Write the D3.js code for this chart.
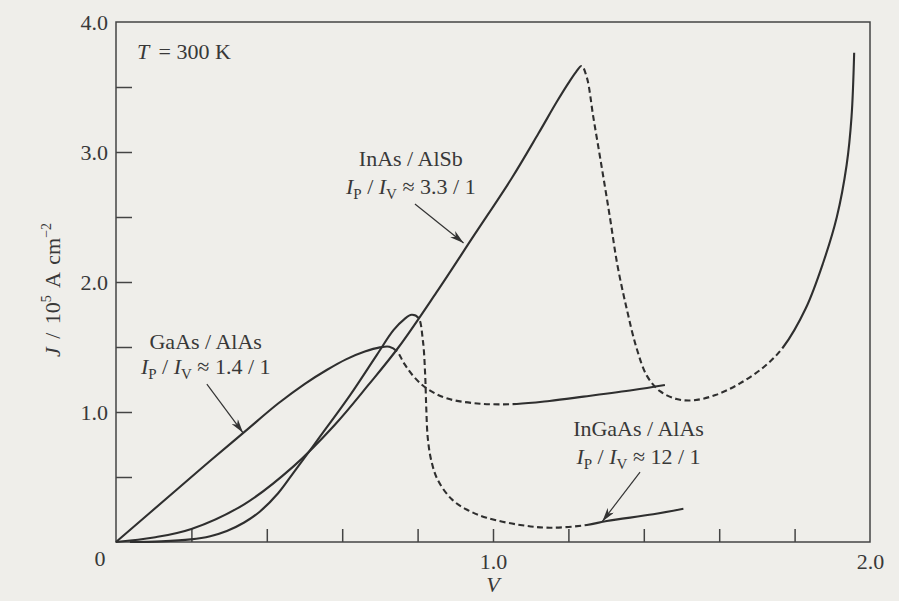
<!DOCTYPE html>
<html>
<head>
<meta charset="utf-8">
<script src="https://cdn.jsdelivr.net/npm/d3@7/dist/d3.min.js"></script>
<style>
  html, body { margin: 0; padding: 0; background: #efeeea; }
  svg { display: block; }
  text { font-family: "Liberation Serif", "Times New Roman", serif; fill: #383838; }
</style>
</head>
<body>
<svg id="chart" width="899" height="601"></svg>
<script>
// Current density J (10^5 A/cm^2) versus bias V for three resonant-tunnelling diodes at 300 K.
// Each device: solid rising branch, dashed negative-differential-resistance branch, solid valley branch.

const gaasRise   = [[0,0],[0.16,0.40],[0.25,0.625],[0.34,0.845],[0.43,1.065],[0.50,1.215],[0.56,1.325],[0.61,1.405],[0.66,1.465],[0.70,1.497],[0.725,1.502],[0.745,1.468]];
const gaasNdr    = [[0.745,1.468],[0.765,1.37],[0.79,1.272],[0.824,1.182],[0.877,1.105],[0.966,1.064],[1.063,1.062]];
const gaasValley = [[1.063,1.062],[1.15,1.085],[1.24,1.118],[1.372,1.169],[1.456,1.208]];

const ingaasRise   = [[0.037,0.0],[0.12,0.005],[0.198,0.02],[0.25,0.045],[0.294,0.085],[0.34,0.15],[0.382,0.235],[0.43,0.375],[0.47,0.53],[0.541,0.81],[0.621,1.13],[0.692,1.44],[0.736,1.63],[0.765,1.715],[0.784,1.748],[0.802,1.725]];
const ingaasNdr    = [[0.802,1.725],[0.814,1.55],[0.82,1.29],[0.823,1.03],[0.827,0.80],[0.836,0.63],[0.853,0.48],[0.89,0.33],[0.93,0.25],[0.983,0.187],[1.072,0.131],[1.151,0.11],[1.249,0.131]];
const ingaasValley = [[1.249,0.131],[1.302,0.162],[1.425,0.213],[1.505,0.256]];

const inasRise   = [[0,0],[0.1,0.035],[0.2,0.10],[0.34,0.29],[0.47,0.58],[0.58,0.90],[0.67,1.21],[0.75,1.50],[0.85,1.92],[0.95,2.36],[1.05,2.80],[1.12,3.14],[1.17,3.39],[1.20,3.53],[1.22,3.615],[1.235,3.662]];
const inasNdr    = [[1.235,3.662],[1.249,3.572],[1.266,3.27],[1.288,2.89],[1.31,2.50],[1.33,2.13],[1.355,1.79],[1.381,1.49],[1.408,1.28],[1.443,1.16],[1.487,1.10],[1.531,1.09],[1.59,1.13],[1.655,1.22],[1.72,1.35],[1.77,1.50]];
const inasValley = [[1.77,1.50],[1.83,1.80],[1.876,2.15],[1.912,2.50],[1.938,2.90],[1.951,3.27],[1.958,3.764]];

// Axis ticks
const xMinorTicks = [0.2,0.4,0.6,0.8,1.0,1.2,1.4,1.6,1.8];
const xLabelTicks = [1.0, 2.0];
const yMinorTicks = [0.5,1.0,1.5,2.0,2.5,3.0,3.5];
const yLabelTicks = [1.0, 2.0, 3.0, 4.0];

// Device labels: name, peak-to-valley ratio
const deviceNames  = ["InAs / AlSb", "GaAs / AlAs", "InGaAs / AlAs"];
const deviceRatios = ["3.3 / 1", "1.4 / 1", "12 / 1"];

const svg = d3.select("#chart");
const ink = "#2f2f2f";
const fs = 22;

const x = d3.scaleLinear().domain([0, 2]).range([116, 870]);
const y = d3.scaleLinear().domain([0, 4]).range([542, 22]);

// Frame
svg.append("rect")
  .attr("x", x(0)).attr("y", y(4))
  .attr("width", x(2) - x(0)).attr("height", y(0) - y(4))
  .attr("fill", "none").attr("stroke", "#444").attr("stroke-width", 1.5);

// Inward ticks
const xAxisTicks = svg.append("g").attr("transform", `translate(0,${y(0)})`)
  .call(d3.axisBottom(x).tickValues(xMinorTicks).tickSize(-13).tickFormat(""));
const yAxisTicks = svg.append("g").attr("transform", `translate(${x(0)},0)`)
  .call(d3.axisLeft(y).tickValues(yMinorTicks).tickSize(-16).tickFormat(""));
[xAxisTicks, yAxisTicks].forEach(g => {
  g.select(".domain").remove();
  g.selectAll(".tick line").attr("stroke", "#444").attr("stroke-width", 1.5);
});

// Tick labels
const yLab = svg.append("g").attr("transform", `translate(${x(0)},0)`)
  .call(d3.axisLeft(y).tickValues(yLabelTicks).tickSize(0).tickPadding(8).tickFormat(d3.format(".1f")));
const xLab = svg.append("g").attr("transform", `translate(0,${y(0)})`)
  .call(d3.axisBottom(x).tickValues(xLabelTicks).tickSize(0).tickPadding(11).tickFormat(d3.format(".1f")));
[yLab, xLab].forEach(g => {
  g.select(".domain").remove();
  g.selectAll("text").attr("font-size", fs).attr("font-family", "Liberation Serif").attr("fill", "#383838");
});
svg.append("text").attr("x", x(0) - 16).attr("y", y(0) + 24)
  .attr("text-anchor", "middle").attr("font-size", fs).text("0");

// Axis titles
svg.append("text").attr("x", x(1)).attr("y", 592)
  .attr("text-anchor", "middle").attr("font-size", fs).attr("font-style", "italic").text("V");

const yt = svg.append("text")
  .attr("transform", `translate(60,${y(2) + 8}) rotate(-90)`)
  .attr("text-anchor", "middle").attr("font-size", fs).attr("word-spacing", 3);
yt.append("tspan").attr("font-style", "italic").text("J");
yt.append("tspan").text(" / 10");
yt.append("tspan").attr("font-size", 14).attr("dy", -9).text("5");
yt.append("tspan").attr("dy", 9).text(" A cm");
yt.append("tspan").attr("font-size", 14).attr("dy", -9).text("\u22122");

// Curves: one smooth path per device; the NDR stretch is dashed via a computed dash array
const line = d3.line().x(d => x(d[0])).y(d => y(d[1])).curve(d3.curveCatmullRom.alpha(0.5));
const curves = svg.append("g").attr("fill", "none").attr("stroke", ink).attr("stroke-linecap", "butt");
const dashOn = 6, dashOff = 3.5;

[[gaasRise, gaasNdr, gaasValley],
 [ingaasRise, ingaasNdr, ingaasValley],
 [inasRise, inasNdr, inasValley]].forEach(([rise, ndr, valley]) => {
  const pts = rise.concat(ndr.slice(1), valley.slice(1));
  const path = curves.append("path").attr("d", line(pts)).attr("stroke-width", 2.1);
  const node = path.node();
  const total = node.getTotalLength();
  // length along the path where it first reaches a given screen x
  const lengthAtX = px => {
    let l = 0;
    while (l < total && node.getPointAtLength(l).x < px) l += 0.25;
    return l;
  };
  const l1 = lengthAtX(x(ndr[0][0]));
  const l2 = lengthAtX(x(ndr[ndr.length - 1][0]));
  const dashes = [l1];
  let pos = l1;
  while (pos + dashOff + dashOn <= l2) {
    dashes.push(dashOff, dashOn);
    pos += dashOff + dashOn;
  }
  dashes.push(Math.min(dashOff, Math.max(0.5, l2 - pos)), total, 0);
  path.attr("stroke-dasharray", dashes.join(","));
});

// Arrowhead marker
svg.append("defs").append("marker")
  .attr("id", "head").attr("viewBox", "0 0 14 8")
  .attr("refX", 14).attr("refY", 4)
  .attr("markerWidth", 14).attr("markerHeight", 8)
  .attr("markerUnits", "userSpaceOnUse").attr("orient", "auto")
  .append("path").attr("d", "M0,0 L14,4 L0,8 L4,4 Z").attr("fill", "#333");

// Temperature note
svg.append("text").attr("x", x(0.056)).attr("y", y(3.715)).attr("font-size", fs)
  .attr("font-style", "italic").text("T");
svg.append("text").attr("x", x(0.113)).attr("y", y(3.715)).attr("font-size", fs)
  .text("= 300 K");

// Device annotations: label lines and arrows to their curves
const annotations = [
  { name: deviceNames[0], ratio: deviceRatios[0], lx: 0.782, ly1: 2.892, ly2: 2.677, from: [0.793, 2.60], to: [0.922, 2.30] },
  { name: deviceNames[1], ratio: deviceRatios[1], lx: 0.238, ly1: 1.485, ly2: 1.292, from: [0.241, 1.215], to: [0.337, 0.84] },
  { name: deviceNames[2], ratio: deviceRatios[2], lx: 1.386, ly1: 0.815, ly2: 0.600, from: [1.39, 0.538], to: [1.29, 0.158] }
];
annotations.forEach(a => {
  svg.append("text").attr("x", x(a.lx)).attr("y", y(a.ly1))
    .attr("text-anchor", "middle").attr("font-size", fs).text(a.name);
  const t = svg.append("text").attr("x", x(a.lx)).attr("y", y(a.ly2))
    .attr("text-anchor", "middle").attr("font-size", fs);
  t.append("tspan").attr("font-style", "italic").text("I");
  t.append("tspan").attr("font-size", 15).attr("dy", 5).text("P");
  t.append("tspan").attr("dy", -5).text(" / ");
  t.append("tspan").attr("font-style", "italic").text("I");
  t.append("tspan").attr("font-size", 15).attr("dy", 5).text("V");
  t.append("tspan").attr("dy", -5).text(" \u2248 " + a.ratio);
  svg.append("line")
    .attr("x1", x(a.from[0])).attr("y1", y(a.from[1]))
    .attr("x2", x(a.to[0])).attr("y2", y(a.to[1]))
    .attr("stroke", "#333").attr("stroke-width", 1.2)
    .attr("marker-end", "url(#head)");
});
</script>
</body>
</html>
